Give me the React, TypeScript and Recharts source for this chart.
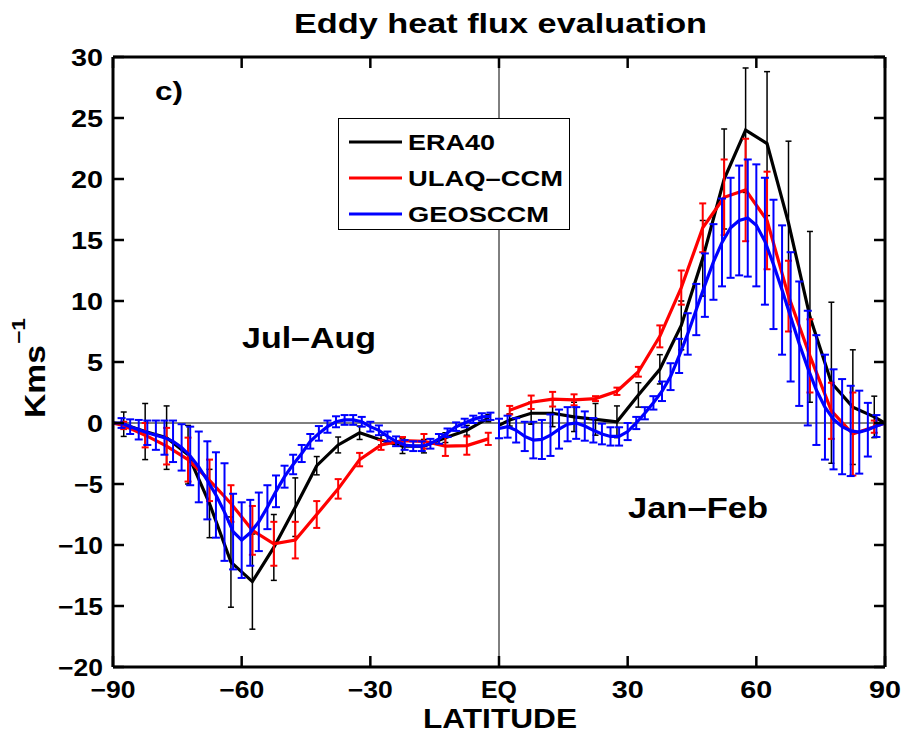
import React from "react";
import { ComposedChart, Line, XAxis, YAxis, ErrorBar, ReferenceLine, Legend } from "recharts";

const FONT = '"Liberation Sans", Arial, Helvetica, sans-serif';

// ERA40, Jul-Aug (southern hemisphere)
const eraSouthLat = [-90, -87.5, -82.5, -77.5, -72.5, -67.5, -62.5, -57.5, -52.5, -47.5, -42.5, -37.5, -32.5, -27.5, -22.5, -17.5, -12.5, -7.5, -2.5];
const eraSouthVal = [0, -0.1, -0.7, -1.2, -2.6, -6.6, -11.4, -13.0, -10.2, -6.9, -3.5, -1.8, -0.8, -1.4, -1.9, -1.9, -1.2, -0.6, 0.4];
const eraSouthErr = [0, 1.0, 2.3, 2.6, 2.4, 2.8, 3.7, 3.9, 2.7, 2.4, 0.75, 0.65, 0.55, 0.4, 0.6, 0.55, 0.4, 0.4, 0.3];

// ERA40, Jan-Feb (northern hemisphere)
const eraNorthLat = [0, 2.5, 7.5, 12.5, 17.5, 22.5, 27.5, 32.5, 37.5, 42.5, 47.5, 52.5, 57.5, 62.5, 67.5, 72.5, 77.5, 82.5, 87.5, 90];
const eraNorthVal = [-0.2, 0.25, 0.8, 0.8, 0.5, 0.3, 0.1, 2.3, 4.4, 8.0, 13.5, 20.0, 24.0, 22.9, 16.4, 8.7, 3.3, 1.3, 0.5, 0];
const eraNorthErr = [0, 0.5, 0.9, 1.1, 1.2, 1.3, 1.3, 1.0, 1.2, 2.0, 3.1, 4.1, 5.1, 5.9, 6.7, 7.0, 6.6, 4.7, 1.7, 0];

// ULAQ-CCM
const ulaqSouthLat = [-90, -87.5, -82.5, -77.5, -72.5, -67.5, -62.5, -57.5, -52.5, -47.5, -42.5, -37.5, -32.5, -27.5, -22.5, -17.5, -12.5, -7.5, -2.5];
const ulaqSouthVal = [0, -0.2, -1.0, -1.9, -3.0, -4.7, -6.6, -8.8, -9.9, -9.6, -7.5, -5.4, -3.0, -1.8, -1.45, -1.5, -1.9, -1.85, -1.3];
const ulaqSouthErr = [0, 0.3, 1.0, 1.5, 1.8, 1.7, 1.5, 2.0, 1.8, 1.5, 1.1, 0.8, 0.55, 0.4, 0.3, 0.6, 0.8, 0.75, 0.5];

const ulaqNorthLat = [2.5, 7.5, 12.5, 17.5, 22.5, 27.5, 32.5, 37.5, 42.5, 47.5, 52.5, 57.5, 62.5, 67.5, 72.5, 77.5, 82.5, 87.5, 90];
const ulaqNorthVal = [1.05, 1.7, 1.95, 1.9, 2.0, 2.6, 4.2, 7.1, 11.1, 16.0, 18.5, 19.1, 16.6, 10.4, 5.5, 1.0, -0.9, -0.3, 0];
const ulaqNorthErr = [0.35, 0.55, 0.6, 0.45, 0.2, 0.3, 0.4, 0.9, 1.4, 2.0, 3.1, 4.2, 4.0, 2.9, 3.0, 2.3, 3.4, 0.5, 0];

// GEOSCCM
const geosSouthLat = [-90, -88, -86, -84, -82, -80, -78, -76, -74, -72, -70, -68, -66, -64, -62, -60, -58, -56, -54, -52, -50, -48, -46, -44, -42, -40, -38, -36, -34, -32, -30, -28, -26, -24, -22, -20, -18, -16, -14, -12, -10, -8, -6, -4, -2];
const geosSouthVal = [0, 0.0, -0.3, -0.55, -0.8, -1.0, -1.2, -1.5, -2.0, -2.7, -3.6, -4.7, -5.9, -7.3, -8.9, -9.6, -9.0, -8.1, -6.9, -5.6, -4.4, -3.4, -2.5, -1.5, -0.85, -0.3, 0.1, 0.25, 0.25, 0.1, -0.3, -0.6, -1.1, -1.5, -1.8, -1.9, -1.9, -1.7, -1.3, -0.8, -0.3, 0.0, 0.3, 0.5, 0.55];
const geosSouthErr = [0, 0.4, 0.6, 0.8, 1.0, 1.2, 1.4, 1.7, 1.9, 2.4, 2.9, 3.2, 3.5, 4.0, 3.1, 3.1, 2.7, 2.4, 1.8, 1.3, 0.9, 0.8, 0.7, 0.6, 0.6, 0.5, 0.45, 0.4, 0.4, 0.4, 0.4, 0.4, 0.4, 0.4, 0.4, 0.4, 0.4, 0.4, 0.4, 0.35, 0.35, 0.35, 0.3, 0.3, 0.3];

const geosNorthLat = [0, 2, 4, 6, 8, 10, 12, 14, 16, 18, 20, 22, 24, 26, 28, 30, 32, 34, 36, 38, 40, 42, 44, 46, 48, 50, 52, 54, 56, 58, 60, 62, 64, 66, 68, 70, 72, 74, 76, 78, 80, 82, 84, 86, 88, 90];
const geosNorthVal = [-0.45, -0.3, -0.6, -1.1, -1.4, -1.35, -1.0, -0.5, -0.1, 0.0, -0.25, -0.6, -0.9, -1.1, -1.1, -0.7, 0.0, 0.8, 1.65, 2.6, 3.8, 5.5, 7.3, 9.3, 11.3, 13.2, 14.8, 16.0, 16.6, 16.8, 16.2, 14.9, 13.0, 10.9, 8.7, 6.5, 4.5, 2.7, 1.3, 0.3, -0.3, -0.65, -0.75, -0.55, -0.25, 0];
const geosNorthErr = [0.8, 0.9, 1.0, 1.2, 1.5, 1.6, 1.7, 1.6, 1.4, 1.3, 1.2, 1.0, 0.85, 0.75, 0.75, 0.7, 0.5, 0.5, 0.55, 0.8, 1.1, 1.4, 1.7, 2.1, 2.6, 3.1, 3.6, 4.1, 4.5, 4.8, 5.0, 5.2, 5.3, 5.3, 5.3, 5.1, 4.7, 4.5, 4.3, 4.1, 3.9, 3.7, 3.4, 2.2, 0.9, 0];

const xTicks = [-90, -60, -30, 0, 30, 60, 90];
const yTicks = [-20, -15, -10, -5, 0, 5, 10, 15, 20, 25, 30];
const seriesNames = ["ERA40", "ULAQ\u2013CCM", "GEOSCCM"];
const seriesColors = ["#000000", "#ff0000", "#0000ff"];

const rows = (lat: number[], val: number[], err: number[]) =>
  lat.map((l, i) => ({ lat: l, v: val[i], err: err[i] }));

const eraSouth = rows(eraSouthLat, eraSouthVal, eraSouthErr);
const eraNorth = rows(eraNorthLat, eraNorthVal, eraNorthErr);
const ulaqSouth = rows(ulaqSouthLat, ulaqSouthVal, ulaqSouthErr);
const ulaqNorth = rows(ulaqNorthLat, ulaqNorthVal, ulaqNorthErr);
const geosSouth = rows(geosSouthLat, geosSouthVal, geosSouthErr);
const geosNorth = rows(geosNorthLat, geosNorthVal, geosNorthErr);

const fmt = (v: number) => (v < 0 ? `\u2212${-v}` : `${v}`);
const xFmt = (v: number) => (v === 0 ? "EQ" : fmt(v));
const labelW = (s: string) => {
  if (s === "EQ") return 36;
  const neg = s.startsWith("\u2212");
  return (s.length - (neg ? 1 : 0)) * 16 + (neg ? 13 : 0);
};

const TICK = 11;
const tickText = { fontFamily: FONT, fontWeight: 700, fontSize: 23, fill: "#000" } as const;

const BottomTick = (p: any) => {
  const s = xFmt(p.payload.value);
  return (
    <g>
      <line x1={p.x} x2={p.x} y1={p.y} y2={p.y - TICK} stroke="#000" strokeWidth={2.5} />
      <text x={p.x} y={p.y + 31} textAnchor="middle" textLength={labelW(s)} lengthAdjust="spacingAndGlyphs" {...tickText}>
        {s}
      </text>
    </g>
  );
};
const TopTick = (p: any) => (
  <line x1={p.x} x2={p.x} y1={p.y} y2={p.y + TICK} stroke="#000" strokeWidth={2.5} />
);
const LeftTick = (p: any) => {
  const s = fmt(p.payload.value);
  return (
    <g>
      <line x1={p.x} x2={p.x + TICK} y1={p.y} y2={p.y} stroke="#000" strokeWidth={2.5} />
      <text x={p.x - 10} y={p.y + 9} textAnchor="end" textLength={labelW(s)} lengthAdjust="spacingAndGlyphs" {...tickText}>
        {s}
      </text>
    </g>
  );
};
const RightTick = (p: any) => (
  <line x1={p.x} x2={p.x - TICK} y1={p.y} y2={p.y} stroke="#000" strokeWidth={2.5} />
);

const LegendBox = () => {
  const widths = [87, 155, 141];
  return (
    <svg width={232} height={112} style={{ display: "block" }}>
      <rect x={0.5} y={0.5} width={231} height={111} fill="#fff" stroke="#000" strokeWidth={1} />
      {seriesNames.map((n, i) => (
        <g key={n}>
          <line x1={11} x2={64} y1={24 + 36 * i} y2={24 + 36 * i} stroke={seriesColors[i]} strokeWidth={3} />
          <text x={70} y={32 + 36 * i} fontFamily={FONT} fontWeight={700} fontSize={22} textLength={widths[i]} lengthAdjust="spacingAndGlyphs">
            {n}
          </text>
        </g>
      ))}
    </svg>
  );
};

const series = (data: any[], color: string, key: string, barW: number, capW: number) => (
  <Line
    key={key}
    data={data}
    dataKey="v"
    name={key}
    type="linear"
    stroke={color}
    strokeWidth={3.2}
    dot={false}
    activeDot={false}
    isAnimationActive={false}
  >
    <ErrorBar dataKey="err" direction="y" width={capW} stroke={color} strokeWidth={barW} isAnimationActive={false} />
  </Line>
);

const axisLine = { stroke: "#000", strokeWidth: 3 };
const txt = { fontFamily: FONT, fontWeight: 700, fill: "#000" } as const;

export default function App() {
  return (
    <div style={{ position: "absolute", left: 0, top: 0, width: 904, height: 735, background: "#fff" }}>
      <ComposedChart width={904} height={735} margin={{ top: 47, right: 9, bottom: 38, left: 63 }}>
        <XAxis dataKey="lat" type="number" domain={[-90, 90]} ticks={xTicks} interval={0} height={30}
          axisLine={axisLine} tickLine={false} tickSize={0} tickMargin={0} tick={BottomTick} allowDataOverflow />
        <XAxis xAxisId="top" orientation="top" dataKey="lat" type="number" domain={[-90, 90]} ticks={xTicks} interval={0} height={10}
          axisLine={axisLine} tickLine={false} tickSize={0} tickMargin={0} tick={TopTick} allowDataOverflow />
        <YAxis type="number" domain={[-20, 30]} ticks={yTicks} interval={0} width={50}
          axisLine={axisLine} tickLine={false} tickSize={0} tickMargin={0} tick={LeftTick} allowDataOverflow />
        <YAxis yAxisId="right" orientation="right" type="number" domain={[-20, 30]} ticks={yTicks} interval={0} width={10}
          axisLine={axisLine} tickLine={false} tickSize={0} tickMargin={0} tick={RightTick} allowDataOverflow />
        <ReferenceLine y={0} stroke="#000" strokeWidth={1} />
        <ReferenceLine x={0} stroke="#000" strokeWidth={1} />
        {series(eraSouth, seriesColors[0], "ERA40 JA", 1.5, 3)}
        {series(eraNorth, seriesColors[0], "ERA40 JF", 1.5, 3)}
        {series(ulaqSouth, seriesColors[1], "ULAQ JA", 2, 3.5)}
        {series(ulaqNorth, seriesColors[1], "ULAQ JF", 2, 3.5)}
        {series(geosSouth, seriesColors[2], "GEOS JA", 2, 4)}
        {series(geosNorth, seriesColors[2], "GEOS JF", 2, 4)}
        <Legend
          layout="vertical"
          align="center"
          verticalAlign="middle"
          content={() => <LegendBox />}
          wrapperStyle={{ position: "absolute", left: 338, top: 118, width: 232, height: 112 }}
        />
      </ComposedChart>
      <svg width={904} height={735} style={{ position: "absolute", left: 0, top: 0, pointerEvents: "none" }}>
        <text x={294} y={33} fontSize={28} textLength={413} lengthAdjust="spacingAndGlyphs" {...txt}>
          Eddy heat flux evaluation
        </text>
        <text x={155} y={100} fontSize={26} textLength={28} lengthAdjust="spacingAndGlyphs" {...txt}>c)</text>
        <text x={242} y={348} fontSize={29} textLength={134} lengthAdjust="spacingAndGlyphs" {...txt}>Jul{"\u2013"}Aug</text>
        <text x={628} y={518} fontSize={29} textLength={140} lengthAdjust="spacingAndGlyphs" {...txt}>Jan{"\u2013"}Feb</text>
        <text x={423} y={728} fontSize={27} textLength={154} lengthAdjust="spacingAndGlyphs" {...txt}>LATITUDE</text>
        <g transform="translate(45,418) rotate(-90)">
          <text x={0} y={0} fontSize={30} textLength={73} lengthAdjust="spacingAndGlyphs" {...txt}>Kms</text>
          <text x={74} y={-20} fontSize={18} textLength={26} lengthAdjust="spacingAndGlyphs" {...txt}>{"\u2212"}1</text>
        </g>
      </svg>
    </div>
  );
}
